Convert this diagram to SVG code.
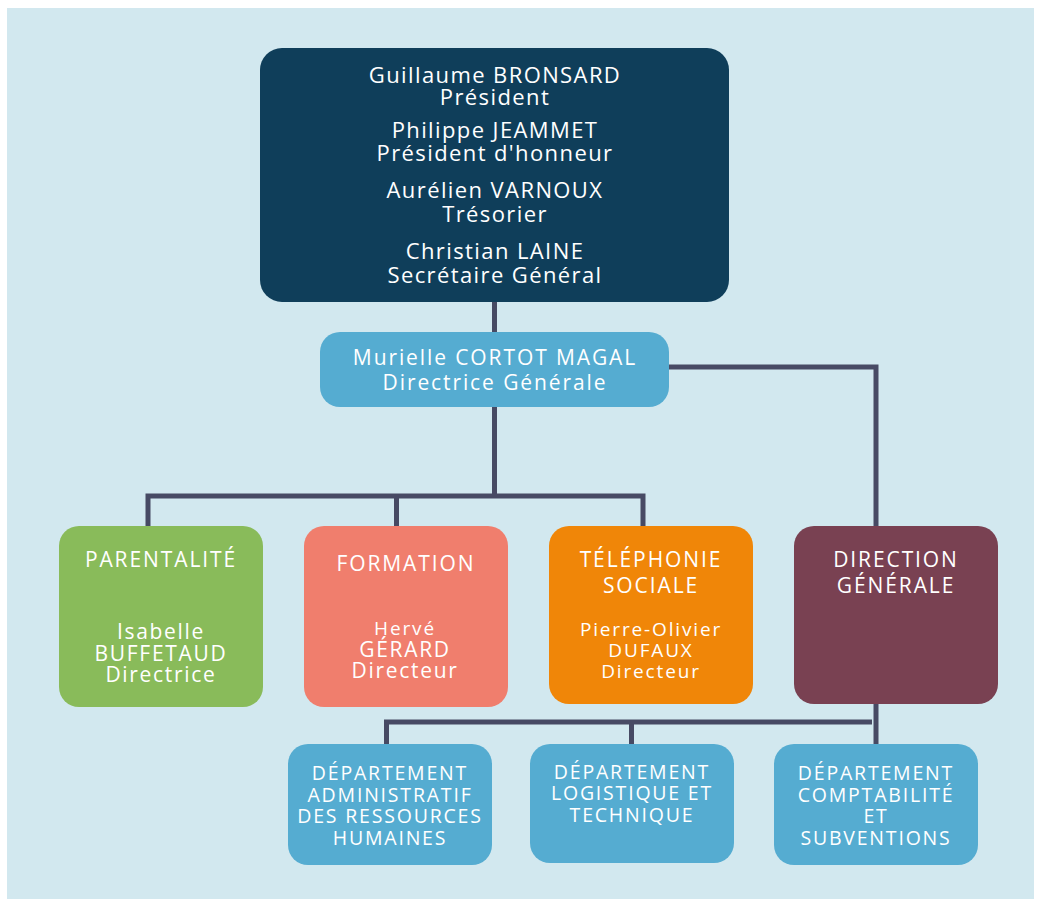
<svg xmlns="http://www.w3.org/2000/svg" width="1037" height="902" viewBox="0 0 1037 902">
<style>
.t{font-family:"Open Sans","Noto Sans","Liberation Sans",sans-serif;fill:#ffffff;text-anchor:middle}
.top{font-size:22px;letter-spacing:1.4px}
.md{font-size:21px;letter-spacing:1.9px}
.nm{font-size:21px;letter-spacing:1.7px}
.sm{font-size:19px;letter-spacing:1.85px}
.dp{font-size:19.5px;letter-spacing:1.8px}
.ln{fill:none;stroke:#474a64;stroke-width:5}
</style>
<rect width="1037" height="902" fill="#ffffff"/>
<rect x="7" y="8" width="1027" height="891" fill="#d2e8ef"/>
<g id="connectors">
<path class="ln" d="M494.5 300 V334"/>
<path class="ln" d="M667 367 H876 V527"/>
<path class="ln" d="M494.5 405 V496 M148 527 V496 H643 V527 M396.5 496 V527"/>
<path class="ln" d="M876 702 V746"/>
<path class="ln" d="M386.5 746 V722 H872 M631.5 722 V746"/>
</g>
<g id="board">
<rect x="260" y="48" width="469" height="254" rx="22" fill="#0f3e5a"/>
<text class="t top" x="495" y="83">Guillaume BRONSARD</text>
<text class="t top" x="495" y="105">Président</text>
<text class="t top" x="495" y="138">Philippe JEAMMET</text>
<text class="t top" x="495" y="161">Président d'honneur</text>
<text class="t top" x="495" y="198">Aurélien VARNOUX</text>
<text class="t top" x="495" y="222">Trésorier</text>
<text class="t top" x="495" y="259">Christian LAINE</text>
<text class="t top" x="495" y="283">Secrétaire Général</text>
</g>
<g id="directrice">
<rect x="320" y="332" width="349" height="75" rx="20" fill="#55acd1"/>
<text class="t md" x="495" y="365">Murielle CORTOT MAGAL</text>
<text class="t md" x="495" y="390">Directrice Générale</text>
</g>
<g id="parentalite">
<rect x="59" y="526" width="204" height="181" rx="20" fill="#89bb5a"/>
<text class="t md" x="161" y="567">PARENTALITÉ</text>
<text class="t nm" x="161" y="639">Isabelle</text>
<text class="t nm" x="161" y="661">BUFFETAUD</text>
<text class="t nm" x="161" y="682">Directrice</text>
</g>
<g id="formation">
<rect x="304" y="526" width="204" height="181" rx="20" fill="#f07e6d"/>
<text class="t md" x="406" y="571">FORMATION</text>
<text class="t sm" x="405" y="635">Hervé</text>
<text class="t nm" x="405" y="657">GÉRARD</text>
<text class="t nm" x="405" y="678">Directeur</text>
</g>
<g id="telephonie">
<rect x="549" y="526" width="204" height="178" rx="20" fill="#f08608"/>
<text class="t md" x="651" y="567">TÉLÉPHONIE</text>
<text class="t md" x="651" y="593">SOCIALE</text>
<text class="t sm" x="651" y="636">Pierre-Olivier</text>
<text class="t sm" x="651" y="657">DUFAUX</text>
<text class="t sm" x="651" y="678">Directeur</text>
</g>
<g id="direction">
<rect x="794" y="526" width="204" height="178" rx="20" fill="#794152"/>
<text class="t md" x="896" y="567">DIRECTION</text>
<text class="t md" x="896" y="593">GÉNÉRALE</text>
</g>
<g id="dept-admin">
<rect x="288" y="744" width="204" height="121" rx="20" fill="#55acd1"/>
<text class="t dp" x="390" y="780">DÉPARTEMENT</text>
<text class="t dp" x="390" y="802">ADMINISTRATIF</text>
<text class="t dp" x="390" y="823">DES RESSOURCES</text>
<text class="t dp" x="390" y="845">HUMAINES</text>
</g>
<g id="dept-logistique">
<rect x="530" y="744" width="204" height="119" rx="20" fill="#55acd1"/>
<text class="t dp" x="632" y="779">DÉPARTEMENT</text>
<text class="t dp" x="632" y="800">LOGISTIQUE ET</text>
<text class="t dp" x="632" y="822">TECHNIQUE</text>
</g>
<g id="dept-compta">
<rect x="774" y="744" width="204" height="121" rx="20" fill="#55acd1"/>
<text class="t dp" x="876" y="780">DÉPARTEMENT</text>
<text class="t dp" x="876" y="802">COMPTABILITÉ</text>
<text class="t dp" x="876" y="823">ET</text>
<text class="t dp" x="876" y="845">SUBVENTIONS</text>
</g>
</svg>
